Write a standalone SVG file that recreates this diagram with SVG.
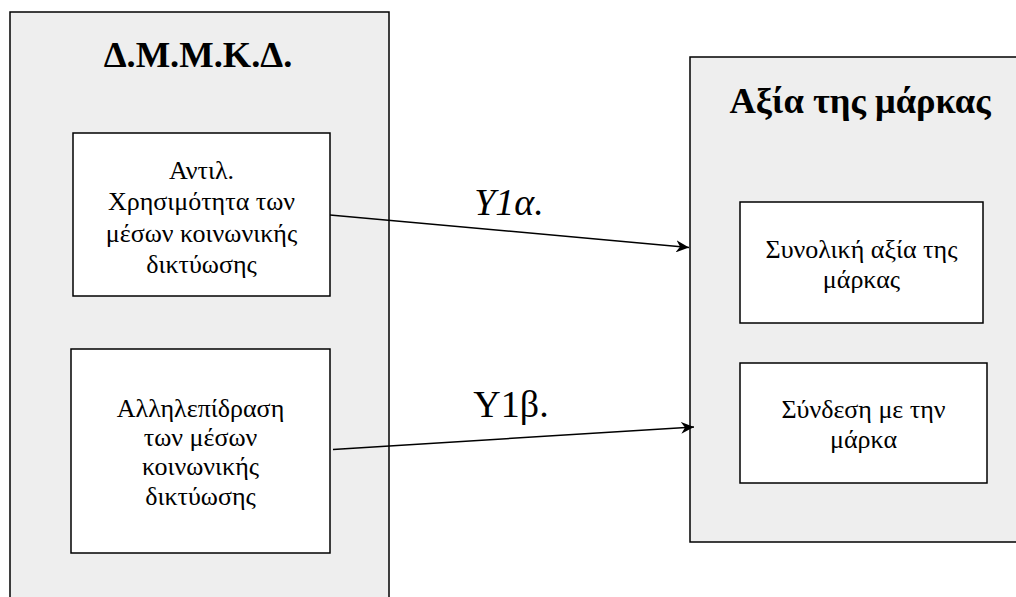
<svg xmlns="http://www.w3.org/2000/svg" width="1016" height="597" viewBox="0 0 1016 597">
<style>
.container{fill:#eeeeee;stroke:#000;stroke-width:1.5}
.box{fill:#fff;stroke:#000;stroke-width:1.5}
.title{font-family:"Liberation Serif",serif;font-weight:bold;font-size:36.5px;text-anchor:middle;fill:#000}
.txt{font-family:"Liberation Serif",serif;font-size:26px;text-anchor:middle;fill:#000}
.lbl{font-family:"Liberation Serif",serif;font-size:38px;text-anchor:middle;fill:#000}
.conn{stroke:#000;stroke-width:1.5;fill:none}
</style>
<defs>
<marker id="arrow" markerWidth="14" markerHeight="12" refX="13" refY="6" orient="auto" markerUnits="userSpaceOnUse">
<path d="M0,0 L13,6 L0,12 L4,6 Z" fill="#000"/>
</marker>
</defs>
<rect width="1016" height="597" fill="#fff"/>
<g id="dmmkd">
<rect class="container" x="10" y="12" width="379" height="620"/>
<text class="title" x="198" y="67">Δ.Μ.Μ.Κ.Δ.</text>
</g>
<g id="brand-equity">
<rect class="container" x="690" y="57" width="340" height="485"/>
<text class="title" x="860" y="113">Αξία της μάρκας</text>
</g>
<g id="usefulness">
<rect class="box" x="73" y="133" width="257" height="163"/>
<text class="txt" x="201.5" y="179">Αντιλ.</text>
<text class="txt" x="201.5" y="210">Χρησιμότητα των</text>
<text class="txt" x="201.5" y="242">μέσων κοινωνικής</text>
<text class="txt" x="201.5" y="273">δικτύωσης</text>
</g>
<g id="interaction">
<rect class="box" x="71" y="349" width="259" height="204"/>
<text class="txt" x="200.5" y="417">Αλληλεπίδραση</text>
<text class="txt" x="200.5" y="446">των μέσων</text>
<text class="txt" x="200.5" y="475">κοινωνικής</text>
<text class="txt" x="200.5" y="505">δικτύωσης</text>
</g>
<g id="overall">
<rect class="box" x="740" y="202" width="243" height="121"/>
<text class="txt" x="861.5" y="258">Συνολική αξία της</text>
<text class="txt" x="861.5" y="288">μάρκας</text>
</g>
<g id="connection">
<rect class="box" x="740" y="363" width="247" height="120"/>
<text class="txt" x="863.5" y="418">Σύνδεση με την</text>
<text class="txt" x="863.5" y="448">μάρκα</text>
</g>
<g id="connectors">
<line class="conn" x1="330" y1="215" x2="689" y2="247.5" marker-end="url(#arrow)"/>
<line class="conn" x1="333" y1="449.5" x2="694" y2="427" marker-end="url(#arrow)"/>
<text class="lbl" x="509" y="215" font-style="italic">Υ1α.</text>
<text class="lbl" x="511" y="417">Υ1β.</text>
</g>
</svg>
